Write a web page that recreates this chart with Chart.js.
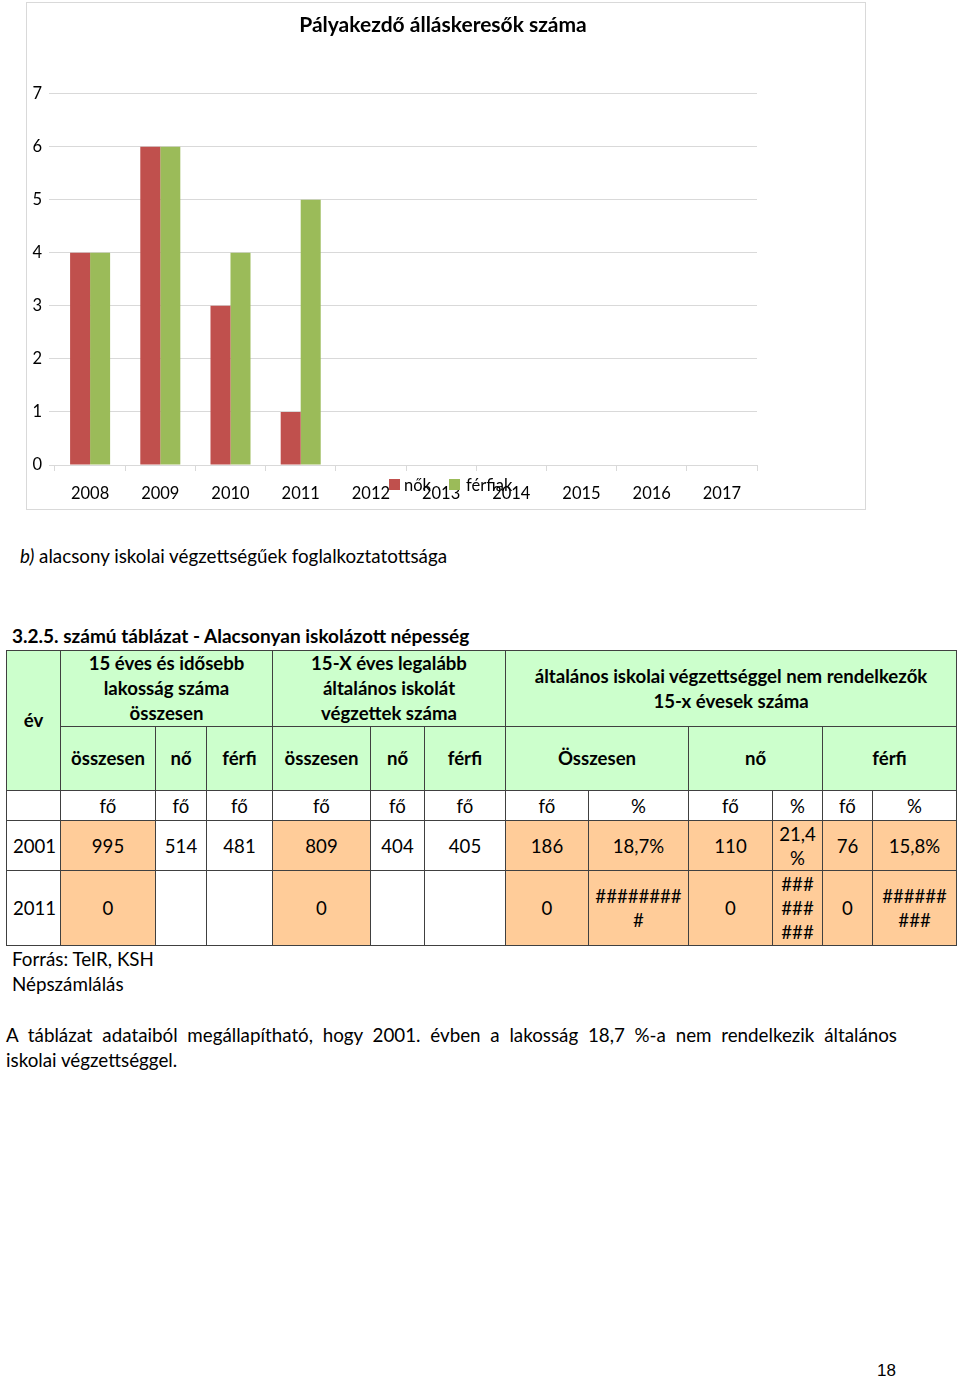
<!DOCTYPE html>
<html>
<head>
<meta charset="utf-8">
<script src="https://cdn.jsdelivr.net/npm/chart.js@4.4.1/dist/chart.umd.min.js"></script>
<style>
  html, body { margin: 0; padding: 0; background: #fff; }
  body { font-family: Lato, "Open Sans", sans-serif; color: #000; }
  #page { position: relative; width: 960px; height: 1378px; overflow: hidden; }
  #chartBox { position: absolute; left: 26px; top: 2px; width: 838px; height: 506px; border: 1px solid #d9d9d9; }
  #chartBox canvas { position: absolute; left: 0; top: 0; }
  #legend { position: absolute; left: 0; top: 0; font-size: 16.5px; }
  .lg-item { position: absolute; white-space: nowrap; line-height: 20px; }
  .lg-box { position: absolute; width: 11px; height: 11px; }
  .txt { position: absolute; white-space: nowrap; font-size: 18.8px; line-height: 25px; }
  #tbl { position: absolute; left: 6px; top: 650px; border-collapse: collapse; table-layout: fixed; width: 950px; font-size: 18.6px; line-height: 24px; }
  #tbl th, #tbl td { border: 1px solid #404040; padding: 0; text-align: center; vertical-align: middle; overflow: hidden; white-space: nowrap; }
  #tbl th { background: #ccffcc; font-weight: bold; line-height: 25px; }
  #tbl .o { background: #ffcc99; }
  #tbl td.yr { text-align: left; padding-left: 6px; }
  #para { position: absolute; left: 6px; top: 1022px; width: 891px; font-size: 18.8px; line-height: 25px; }
  #para .l1 { text-align: justify; text-align-last: justify; }
  #pnum { position: absolute; left: 877px; top: 1359px; font-family: "Liberation Sans", Arial, sans-serif; font-size: 17px; line-height: 24px; }
</style>
</head>
<body>
<div id="page">
  <div id="chartBox">
    <canvas id="c" width="838" height="506"></canvas>
    <div id="legend"></div>
  </div>

  <div class="txt" style="left:20px; top:543px;"><i>b)</i> alacsony iskolai végzettségűek foglalkoztatottsága</div>
  <div class="txt" style="left:12px; top:623px; font-weight:bold; font-size:19px;">3.2.5. számú táblázat - Alacsonyan iskolázott népesség</div>

  <table id="tbl">
    <colgroup>
      <col style="width:54px"><col style="width:95px"><col style="width:51px"><col style="width:66px">
      <col style="width:98px"><col style="width:54px"><col style="width:81px"><col style="width:83px">
      <col style="width:100px"><col style="width:84px"><col style="width:50px"><col style="width:50px"><col style="width:84px">
    </colgroup>
    <tr style="height:74px">
      <th rowspan="2">év</th>
      <th colspan="3">15 éves és idősebb<br>lakosság száma<br>összesen</th>
      <th colspan="3">15-X éves legalább<br>általános iskolát<br>végzettek száma</th>
      <th colspan="6">általános iskolai végzettséggel nem rendelkezők<br>15-x évesek száma</th>
    </tr>
    <tr style="height:64px">
      <th>összesen</th><th>nő</th><th>férfi</th>
      <th>összesen</th><th>nő</th><th>férfi</th>
      <th colspan="2">Összesen</th><th colspan="2">nő</th><th colspan="2">férfi</th>
    </tr>
    <tr style="height:30px">
      <td></td><td>fő</td><td>fő</td><td>fő</td><td>fő</td><td>fő</td><td>fő</td>
      <td>fő</td><td>%</td><td>fő</td><td>%</td><td>fő</td><td>%</td>
    </tr>
    <tr style="height:50px">
      <td class="yr">2001</td><td class="o">995</td><td>514</td><td>481</td>
      <td class="o">809</td><td>404</td><td>405</td>
      <td class="o">186</td><td class="o">18,7%</td><td class="o">110</td><td class="o">21,4<br>%</td><td class="o">76</td><td class="o">15,8%</td>
    </tr>
    <tr style="height:75px">
      <td class="yr">2011</td><td class="o">0</td><td></td><td></td>
      <td class="o">0</td><td></td><td></td>
      <td class="o">0</td><td class="o">########<br>#</td><td class="o">0</td><td class="o">###<br>###<br>###</td><td class="o">0</td><td class="o">######<br>###</td>
    </tr>
  </table>

  <div class="txt" style="left:12px; top:946px;">Forrás: TeIR, KSH<br>Népszámlálás</div>

  <div id="para">
    <div class="l1">A táblázat adataiból megállapítható, hogy 2001. évben a lakosság 18,7 %-a nem rendelkezik általános</div>
    <div>iskolai végzettséggel.</div>
  </div>

  <div id="pnum">18</div>
</div>

<script>
// ---- chart data ----
const chartTitle = 'Pályakezdő álláskeresők száma';
const years = ['2008', '2009', '2010', '2011', '2012', '2013', '2014', '2015', '2016', '2017'];
const seriesNames = ['nők', 'férfiak'];
const nokValues = [4, 6, 3, 1, null, null, null, null, null, null];
const ferfiakValues = [4, 6, 4, 5, null, null, null, null, null, null];
const yTickMin = 0;
const yTickMax = 7;
const yTickStep = 1;
const seriesColors = ['#C0504D', '#9BBB59'];

const FONT = 'Lato, "Open Sans", sans-serif';

const chart = new Chart(document.getElementById('c'), {
  type: 'bar',
  data: {
    labels: years,
    datasets: [
      { label: seriesNames[0], data: nokValues, backgroundColor: seriesColors[0], borderWidth: 0 },
      { label: seriesNames[1], data: ferfiakValues, backgroundColor: seriesColors[1], borderWidth: 0 }
    ]
  },
  options: {
    responsive: false,
    animation: false,
    devicePixelRatio: 1,
    layout: { padding: { left: 0, right: 6, top: 0, bottom: 0 } },
    datasets: { bar: { barPercentage: 1, categoryPercentage: 0.57 } },
    plugins: {
      legend: { display: false },
      tooltip: { enabled: false },
      title: {
        display: true,
        text: chartTitle,
        color: '#000',
        font: { family: FONT, size: 21, weight: 'bold' },
        padding: { top: 10, bottom: 55.5 }
      }
    },
    scales: {
      x: {
        grid: { drawOnChartArea: false, drawTicks: true, tickLength: 6, color: '#d9d9d9', offset: true },
        border: { color: '#d9d9d9' },
        ticks: { color: '#000', font: { family: FONT, size: 16.5 }, padding: 13, maxRotation: 0, autoSkip: false },
        afterFit: s => { s.height = 44; }
      },
      y: {
        min: yTickMin, max: yTickMax,
        grid: { color: '#d9d9d9', tickLength: 6 },
        border: { display: false },
        ticks: { stepSize: yTickStep, color: '#000', font: { family: FONT, size: 16.5 }, padding: 7 },
        afterFit: s => { s.width = 28; }
      },
      yRight: {
        position: 'right',
        display: true,
        grid: { display: false },
        border: { display: false },
        ticks: { display: false },
        afterFit: s => { s.width = 102; }
      }
    }
  }
});

// legend overlay (built from the dataset labels/colours)
const legend = document.getElementById('legend');
const legendPos = [{ box: 362, text: 377 }, { box: 422, text: 439 }];
chart.data.datasets.forEach((ds, i) => {
  const b = document.createElement('div');
  b.className = 'lg-box';
  b.style.left = legendPos[i].box + 'px';
  b.style.top = '476px';
  b.style.background = ds.backgroundColor;
  legend.appendChild(b);
  const t = document.createElement('div');
  t.className = 'lg-item';
  t.style.left = legendPos[i].text + 'px';
  t.style.top = '472px';
  t.textContent = ds.label;
  legend.appendChild(t);
});
</script>
</body>
</html>
